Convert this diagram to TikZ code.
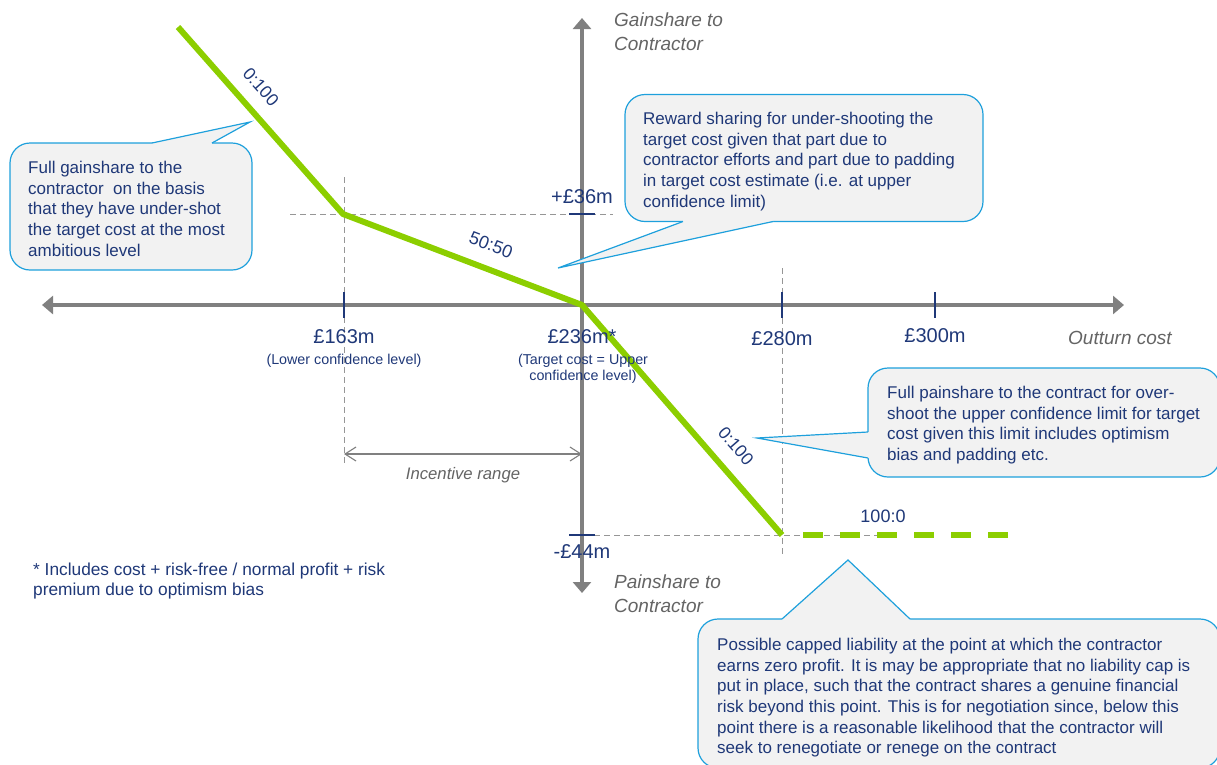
\documentclass[tikz,border=0pt]{standalone}
\usepackage{fontspec}
\setmainfont{Liberation Sans}
\usetikzlibrary{arrows.meta}

\definecolor{navy}{RGB}{31,56,120}
\definecolor{axisgray}{RGB}{128,128,128}
\definecolor{guidegray}{RGB}{150,150,150}
\definecolor{labelgray}{RGB}{100,100,100}
\definecolor{sharegreen}{RGB}{140,206,0}
\definecolor{callblue}{RGB}{30,160,220}
\definecolor{callfill}{RGB}{242,242,242}

\begin{document}
\begin{tikzpicture}[x=1pt,y=-1pt,
  axis/.style={draw=axisgray, line width=4pt},
  axistip/.style={-{Triangle[width=18pt,length=11pt]}},
  tickmark/.style={draw=navy, line width=2.5pt},
  guide/.style={draw=guidegray, line width=1pt, dash pattern=on 6pt off 4pt},
  share/.style={draw=sharegreen, line width=6pt, line join=round},
  capline/.style={draw=sharegreen, line width=6pt, dash pattern=on 20pt off 17pt},
  rangearrow/.style={draw=axisgray, line width=1.1pt,
    {Straight Barb[length=11pt,width=14pt]}-{Straight Barb[length=11pt,width=14pt]}},
  callbox/.style={rectangle, rounded corners=20pt, fill=callfill, draw=callblue,
    line width=1.2pt, inner sep=0pt},
  pointerfill/.style={fill=callfill},
  pointeredge/.style={draw=callblue, line width=1.2pt, line join=miter},
  calltext/.style={anchor=north west, inner sep=0pt, align=left, text=navy,
    font=\fontsize{17}{20.7}\selectfont},
  ticklab/.style={anchor=base, inner sep=0pt, text=navy, font=\fontsize{20}{24}\selectfont},
  sublab/.style={anchor=base, inner sep=0pt, text=navy, align=center,
    font=\fontsize{14.3}{16.5}\selectfont},
  axislab/.style={inner sep=0pt, text=labelgray, align=left,
    font=\fontsize{19}{24}\selectfont\itshape},
  ratio/.style={inner sep=0pt, text=navy, font=\fontsize{17.5}{20}\selectfont},
  footnote/.style={anchor=north west, inner sep=0pt, align=left, text=navy,
    font=\fontsize{17.3}{20.5}\selectfont}
]
\useasboundingbox (0,0) rectangle (1217,764);
\clip (0,0) rectangle (1217,764);

% ---- key points of the sharing curve ----
\coordinate (start)  at (178,27);
\coordinate (knee1)  at (343,214);
\coordinate (origin) at (582,305);
\coordinate (knee2)  at (782,535);
\coordinate (capstart) at (803,535);
\coordinate (capend)   at (1008,535);

% ---- axes ----
\coordinate (xl) at (42,305);
\coordinate (xr) at (1124,305);
\coordinate (yt) at (582,18);
\coordinate (yb) at (582,593);

% ---- guide lines ----
\coordinate (g1a) at (344,177);  \coordinate (g1b) at (344,465);
\coordinate (g2a) at (290,214);  \coordinate (g2b) at (613,214);
\coordinate (g3a) at (782,268);  \coordinate (g3b) at (782,557);
\coordinate (g4a) at (594,535);  \coordinate (g4b) at (880,535);
\draw[guide] (g1a) -- (g1b);
\draw[guide] (g2a) -- (g2b);
\draw[guide] (g3a) -- (g3b);
\draw[guide] (g4a) -- (g4b);

\draw[axis, axistip] (origin) -- (xl);
\draw[axis, axistip] (origin) -- (xr);
\draw[axis, axistip] (origin) -- (yt);
\draw[axis, axistip] (origin) -- (yb);

% ---- tick marks ----
\coordinate (t1a) at (344,292); \coordinate (t1b) at (344,318);
\coordinate (t2a) at (782,292); \coordinate (t2b) at (782,318);
\coordinate (t3a) at (935,292); \coordinate (t3b) at (935,318);
\coordinate (t4a) at (569,214); \coordinate (t4b) at (595,214);
\coordinate (t5a) at (569,535); \coordinate (t5b) at (595,535);
\foreach \a/\b in {t1a/t1b,t2a/t2b,t3a/t3b,t4a/t4b,t5a/t5b}
  \draw[tickmark] (\a) -- (\b);

% ---- sharing curve ----
\draw[share] (start) -- (knee1) -- (origin) -- (knee2);
\draw[capline] (capstart) -- (capend);

% ---- incentive range ----
\coordinate (ra) at (344,454);
\coordinate (rb) at (582,454);
\draw[rangearrow] (ra) -- (rb);
\node[inner sep=0pt, anchor=base, text=labelgray, font=\fontsize{16.7}{20}\selectfont\itshape]
  (rangelab) at (463,479) {Incentive range};

% ---- axis values ----
\node[ticklab] (v163) at (344,343) {£163m};
\node[sublab]  (s163) at (344,364) {(Lower confidence level)};
\node[ticklab] (v236) at (582,343) {£236m*};
\node[sublab, anchor=north] (s236) at (583,353.5) {(Target cost = Upper\\confidence level)};
\node[ticklab] (v280) at (782,345) {£280m};
\node[ticklab] (v300) at (935,342) {£300m};
\node[ticklab] (vp36) at (582,203) {+£36m};
\node[ticklab] (vm44) at (582,558) {-£44m};

\node[axislab, anchor=base west] (xlab) at (1068,344) {Outturn cost};
\node[axislab, anchor=north west] (ytop) at (614,13) {Gainshare to\\Contractor};
\node[axislab, anchor=north west] (ybot) at (614,575) {Painshare to\\Contractor};

% ---- share ratios ----
\node[ratio, rotate=-48.5] (r1) at (261,87) {0:100};
\node[ratio, rotate=-21, font=\fontsize{18}{20}\selectfont] (r2) at (491,245) {50:50};
\node[ratio, rotate=-49] (r3) at (736,446) {0:100};
\node[ratio, anchor=base, font=\fontsize{18}{20}\selectfont] (r4) at (883,522) {100:0};

% ---- footnote ----
\node[footnote] (note) at (33,562.5) {* Includes cost + risk-free / normal profit + risk\\premium due to optimism bias};

% ---- callouts ----
% gainshare callout
\node[callbox, minimum width=242pt, minimum height=127pt] (c1) at (131,206.5) {};
\coordinate (p1) at (250,122);
\fill[pointerfill] (152,143) -- (p1) -- (212,143) -- (212,146) -- (152,146) -- cycle;
\draw[pointeredge] (152,143) -- (p1) -- (212,143);
\node[calltext] (c1t) at (28,160.8) {Full gainshare to the\\contractor\ \ on the basis\\that they have under-shot\\the target cost at the most\\ambitious level};

% reward sharing callout
\node[callbox, minimum width=358pt, minimum height=127pt] (c2) at (804,158) {};
\coordinate (p2) at (558,268);
\fill[pointerfill] (683,221.5) -- (p2) -- (773,221.5) -- (773,218) -- (683,218) -- cycle;
\draw[pointeredge] (683,221.5) -- (p2) -- (773,221.5);
\node[calltext] (c2t) at (643,111.8) {Reward sharing for under-shooting the\\target cost given that part due to\\contractor efforts and part due to padding\\in target cost estimate (i.e. at upper\\confidence limit)};

% painshare callout
\node[callbox, minimum width=352pt, minimum height=109pt] (c3) at (1044,422.5) {};
\coordinate (p3) at (757,438);
\fill[pointerfill] (868,432) -- (p3) -- (868,458) -- (871,458) -- (871,432) -- cycle;
\draw[pointeredge] (868,432) -- (p3) -- (868,458);
\node[calltext] (c3t) at (887,385.8) {Full painshare to the contract for over-\\shoot the upper confidence limit for target\\cost given this limit includes optimism\\bias and padding etc.};

% liability cap callout
\node[callbox, minimum width=522pt, minimum height=149pt] (c4) at (959,693.5) {};
\coordinate (p4) at (848,560);
\fill[pointerfill] (782,619) -- (p4) -- (910,619) -- (910,622) -- (782,622) -- cycle;
\draw[pointeredge] (782,619) -- (p4) -- (910,619);
\node[calltext] (c4t) at (717,637.8) {Possible capped liability at the point at which the contractor\\earns zero profit. It is may be appropriate that no liability cap is\\put in place, such that the contract shares a genuine financial\\risk beyond this point. This is for negotiation since, below this\\point there is a reasonable likelihood that the contractor will\\seek to renegotiate or renege on the contract};
\end{tikzpicture}
\end{document}
